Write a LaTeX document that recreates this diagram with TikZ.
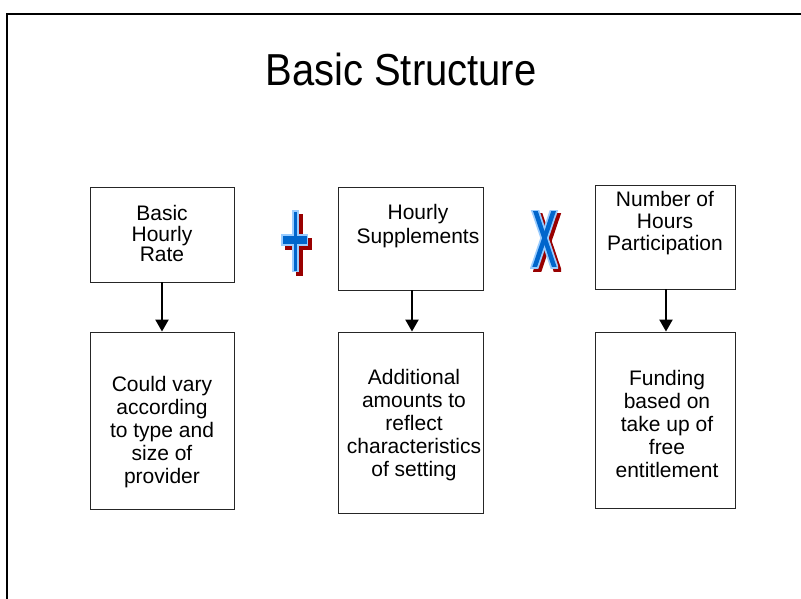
\documentclass[tikz,border=0pt]{standalone}
\usepackage{fontspec}
\setmainfont{Liberation Sans}
\usetikzlibrary{arrows.meta}
\definecolor{shadowred}{HTML}{990000}
\definecolor{lightblue}{HTML}{99CCFF}
\definecolor{midblue}{HTML}{0066CC}
\begin{document}
\begin{tikzpicture}[x=1pt,y=-1pt,
  box/.style={draw=black!85, line width=0.9pt, minimum width=144pt, inner sep=0pt},
  txt/.style={align=center, font=\fontsize{21}{20.5}\selectfont, inner sep=0pt, anchor=base},
  conn/.style={line width=2.2pt, -{Triangle[length=12pt,width=13pt]}}
]
\useasboundingbox (0,0) rectangle (801,598);
% frame
\draw[line width=2pt] (7,599) -- (7,14) -- (802,14);
% title
\node[anchor=base, inner sep=0pt] (title) at (401,85) {\scalebox{1}[1.12]{\fontsize{40}{44}\selectfont Basic Structure}};
% top boxes
\node[box, minimum height=95pt] (b1) at (162,234.5) {};
\node[box, minimum width=145pt, minimum height=103pt] (b2) at (410.5,238.5) {};
\node[box, minimum width=140pt, minimum height=104pt] (b3) at (665,237) {};
% bottom boxes
\node[box, minimum height=177pt] (c1) at (162,420.5) {};
\node[box, minimum width=145pt, minimum height=181pt] (c2) at (410.5,422.5) {};
\node[box, minimum width=140pt, minimum height=176pt] (c3) at (665,420) {};
% texts (anchor base = baseline of last line)
\node[txt] (t1) at (162,261.7) {Basic\\Hourly\\Rate};
\node[txt, font=\fontsize{21}{24}\selectfont] (t2) at (418,243) {Hourly\\Supplements};
\node[txt, font=\fontsize{21}{22}\selectfont] (t3) at (665,250.7) {Number of\\Hours\\Participation};
\node[txt, font=\fontsize{21}{23}\selectfont] (u1) at (162,483) {Could vary\\according\\to type and\\size of\\provider};
\node[txt, font=\fontsize{21}{23}\selectfont] (u2) at (414,476) {Additional\\amounts to\\reflect\\characteristics\\of setting};
\node[txt, font=\fontsize{21}{23}\selectfont] (u3) at (667,477) {Funding\\based on\\take up of\\free\\entitlement};
% connectors
\draw[conn] (b1.south) -- (c1.north);
\draw[conn] ([xshift=1.5pt]b2.south) -- ([xshift=1.5pt]c2.north);
\draw[conn] ([xshift=1pt]b3.south) -- ([xshift=1pt]c3.north);
% plus sign
\fill[shadowred] (296,214) rectangle (303,276);
\fill[shadowred] (285,238) rectangle (312,250);
\fill[lightblue] (292,210) rectangle (299,272);
\fill[lightblue] (281,234) rectangle (308,246);
\fill[midblue] (293.8,211.5) rectangle (297.2,270.5);
\fill[midblue] (282.5,236) rectangle (306.5,244);
% times sign
\begin{scope}
  \clip (533,213) rectangle (561,271);
  \draw[shadowred, line width=8pt] (536,207) -- (559,275);
  \draw[shadowred, line width=8pt] (559,207) -- (536,275);
\end{scope}
\begin{scope}
  \clip (530,210) rectangle (558,268);
  \draw[lightblue, line width=8pt] (533,204) -- (556,272);
  \draw[lightblue, line width=8pt] (556,204) -- (533,272);
  \clip (530,211.5) rectangle (558,266.5);
  \draw[midblue, line width=4.5pt] (533,204) -- (556,272);
  \draw[midblue, line width=4.5pt] (556,204) -- (533,272);
\end{scope}
\end{tikzpicture}
\end{document}
